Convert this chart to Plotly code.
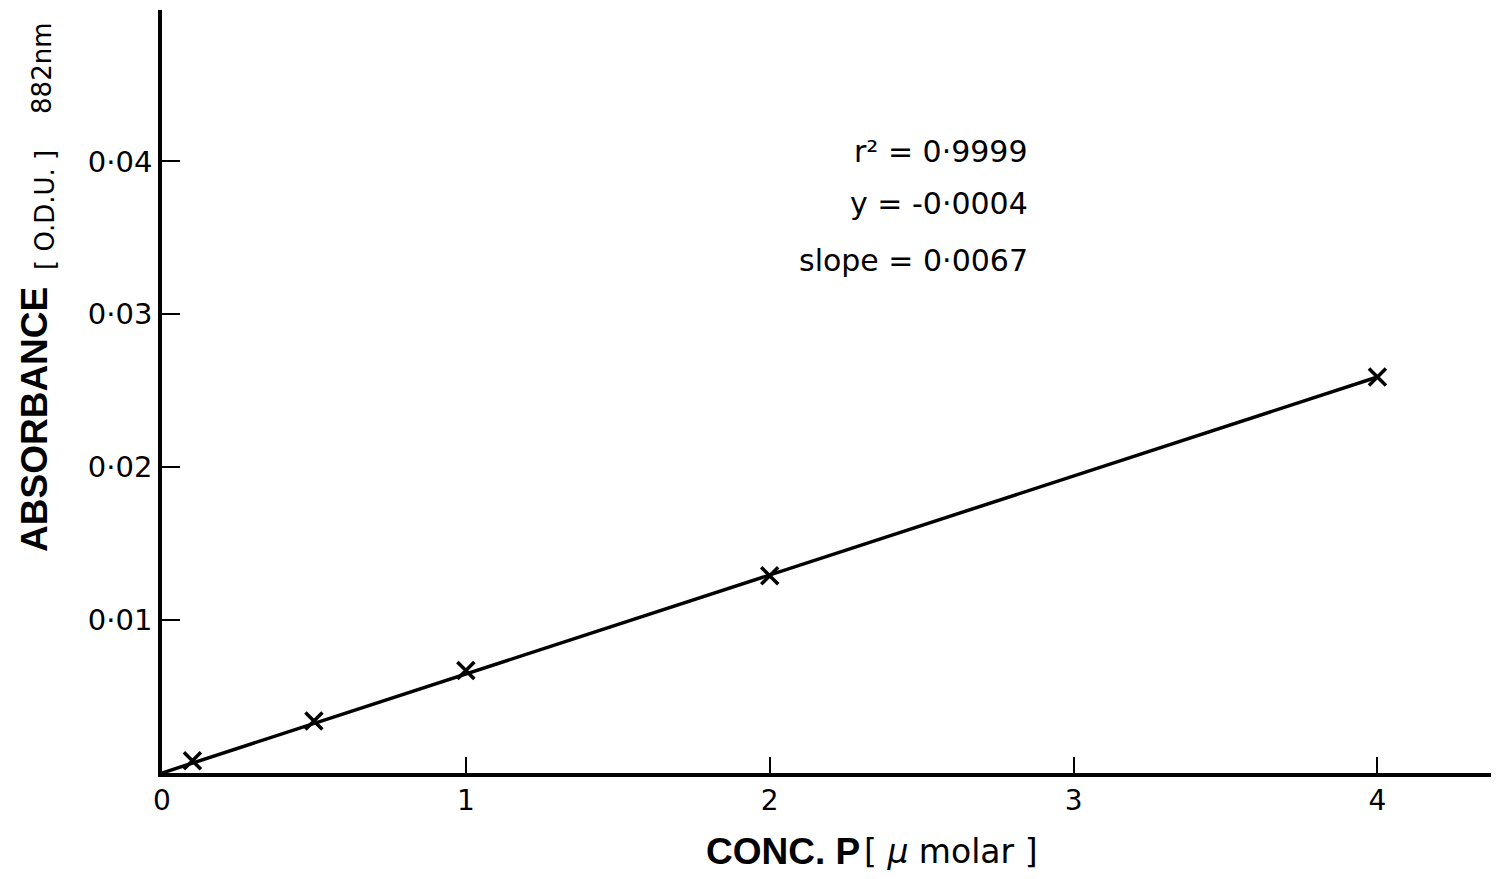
import plotly.graph_objects as go

# Data
conc = [0.1, 0.5, 1.0, 2.0, 4.0]
absorbance = [0.0008, 0.0034, 0.0067, 0.0129, 0.0259]
fit_x = [0.0, 4.0]
fit_y = [0.0, 0.0259]

x_tickvals = [0, 1, 2, 3, 4]
x_ticktext = ["0", "1", "2", "3", "4"]
y_tickvals = [0.01, 0.02, 0.03, 0.04]
y_ticktext = ["0·01", "0·02", "0·03", "0·04"]

stats_lines = ["r² = 0·9999", "y = -0·0004", "slope = 0·0067"]

fig = go.Figure()
fig.add_trace(go.Scatter(x=fit_x, y=fit_y, mode="lines",
                         line=dict(color="black", width=3.5), showlegend=False, hoverinfo="skip"))
fig.add_trace(go.Scatter(x=conc, y=absorbance, mode="markers",
                         marker=dict(symbol="x-thin", size=17, line=dict(color="black", width=3.5)),
                         showlegend=False))

fig.update_layout(
    width=1491, height=871,
    margin=dict(l=154, r=0, t=2, b=106),
    plot_bgcolor="white", paper_bgcolor="white",
    font=dict(family="DejaVu Sans", color="black"),
    xaxis=dict(range=[0, 4.40], showgrid=False, zeroline=False, showline=True,
               linecolor="black", linewidth=3.5, ticks="inside", ticklen=16, tickwidth=2,
               tickcolor="black", tickvals=x_tickvals, ticktext=x_ticktext,
               tickfont=dict(size=28, family="DejaVu Sans"), ticklabelstandoff=0),
    yaxis=dict(range=[0, 0.0499], showgrid=False, zeroline=False, showline=True,
               linecolor="black", linewidth=3.5, ticks="inside", ticklen=18, tickwidth=2,
               tickcolor="black", tickvals=y_tickvals, ticktext=y_ticktext,
               tickfont=dict(size=29, family="DejaVu Sans")),
)

# Y-axis title pieces
fig.add_annotation(xref="paper", yref="paper", x=-0.095, y=0.464,
                   text="<b>ABSORBANCE</b>",
                   font=dict(size=37, family="Liberation Sans"),
                   textangle=-90, showarrow=False, xanchor="center", yanchor="middle")
fig.add_annotation(xref="paper", yref="paper", x=-0.0875, y=0.738,
                   text="[ O.D.U. ]",
                   font=dict(size=26, family="DejaVu Sans"),
                   textangle=-90, showarrow=False, xanchor="center", yanchor="middle")
fig.add_annotation(xref="paper", yref="paper", x=-0.0898, y=0.924,
                   text="882nm",
                   font=dict(size=26, family="DejaVu Sans"),
                   textangle=-90, showarrow=False, xanchor="center", yanchor="middle")

# X-axis title
fig.add_annotation(xref="paper", yref="paper", x=0.5236, y=-0.1035,
                   text="<b>CONC. P</b>",
                   font=dict(size=37, family="Liberation Sans"),
                   showarrow=False, xanchor="right", yanchor="middle")
fig.add_annotation(xref="paper", yref="paper", x=0.5236, y=-0.1035,
                   text="[ <i>μ</i> molar ]",
                   font=dict(size=33, family="DejaVu Sans"),
                   showarrow=False, xanchor="left", yanchor="middle")

# Stats
stat_y = [0.814, 0.747, 0.672]
for txt, yy in zip(stats_lines, stat_y):
    fig.add_annotation(xref="paper", yref="paper", x=0.649, y=yy, text=txt,
                       font=dict(size=30, family="DejaVu Sans"),
                       showarrow=False, xanchor="right", yanchor="middle")

fig.write_html("out.html")
